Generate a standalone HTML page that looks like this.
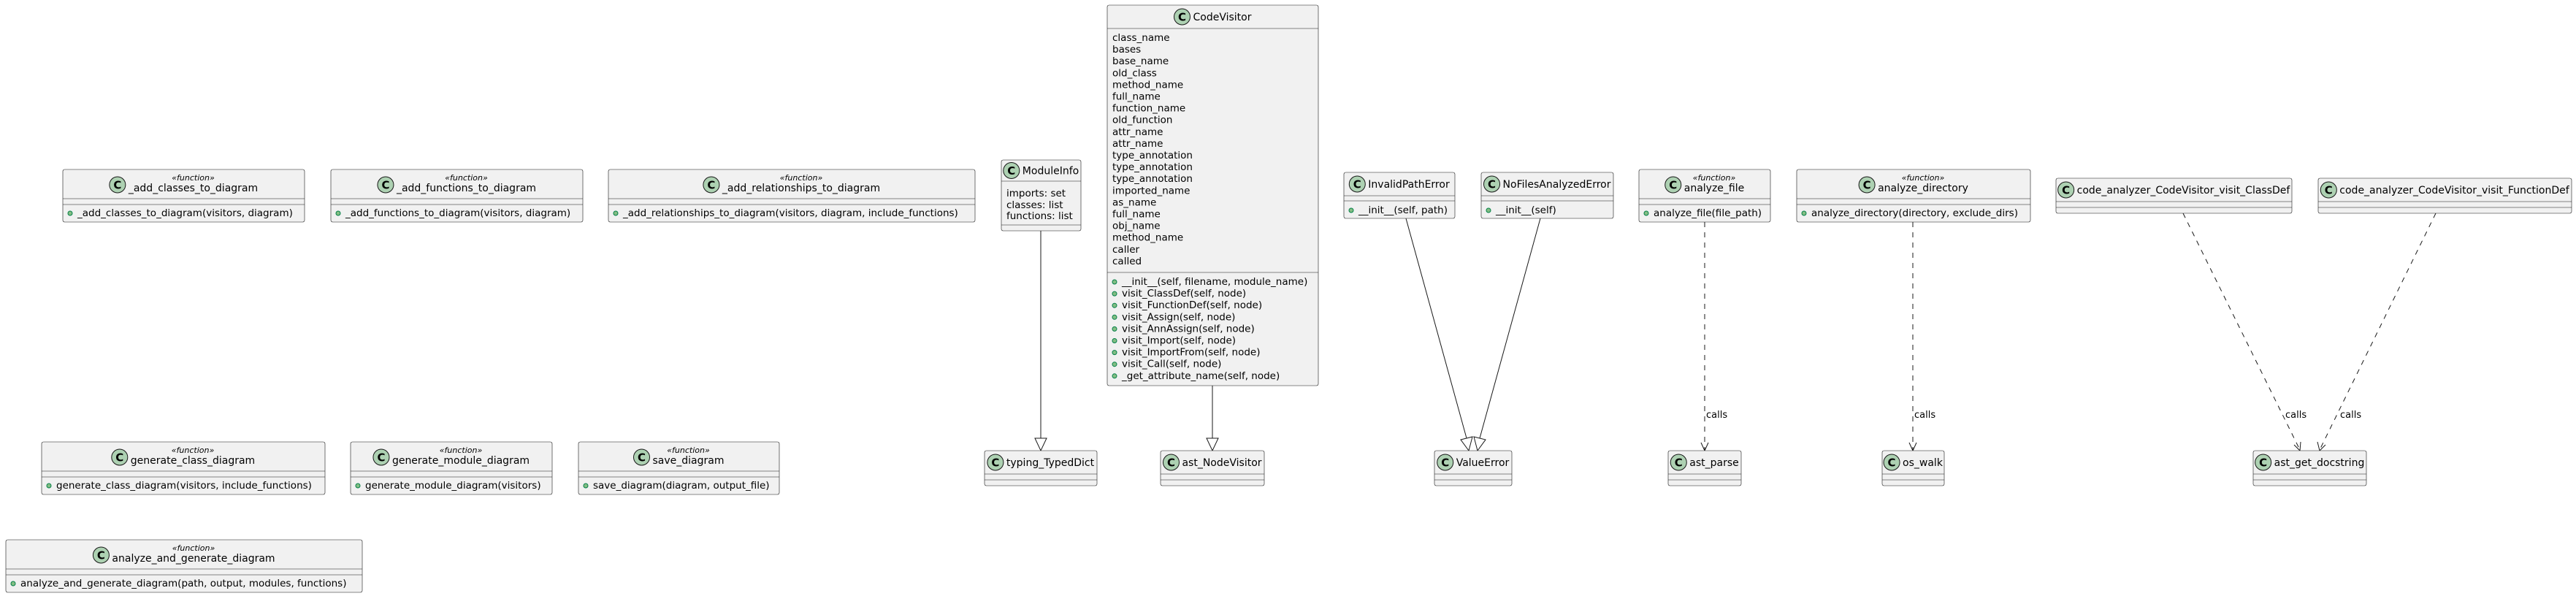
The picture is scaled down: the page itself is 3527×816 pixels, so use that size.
<!DOCTYPE html>
<html><head><meta charset="utf-8">
<style>
html,body{margin:0;padding:0;background:#fff;}
svg{display:block;font-family:"DejaVu Sans","Liberation Sans",sans-serif;}
</style></head>
<body>
<svg id="s" width="3527" height="816" viewBox="0 0 3527 816" xmlns="http://www.w3.org/2000/svg">
<defs>
<marker id="tri" viewBox="0 0 20 20" refX="10" refY="20" markerWidth="20" markerHeight="20" orient="auto-start-reverse" markerUnits="userSpaceOnUse"></marker>
</defs>
<g id="edges" stroke="#181818" fill="none" stroke-width="1">
<line x1="1425" y1="316" x2="1425" y2="600"/>
<polygon points="1417,600 1433,600 1425,617" fill="#fff"/>
<line x1="1660" y1="528" x2="1660" y2="600"/>
<polygon points="1652,600 1668,600 1660,617" fill="#fff"/>
<line x1="1925" y1="299" x2="2008" y2="600"/>
<polygon points="2000,602 2016,598 2011,617" fill="#fff"/>
<line x1="2109" y1="299" x2="2026" y2="600"/>
<polygon points="2018,598 2034,602 2023,617" fill="#fff"/>
<g stroke-dasharray="7,7">
<line x1="2334" y1="304" x2="2334" y2="616"/>
<line x1="2619" y1="304" x2="2619" y2="616"/>
<line x1="2989" y1="292" x2="3149" y2="616"/>
<line x1="3335" y1="292" x2="3176" y2="616"/>
</g>
<polyline points="2329,606 2334,617 2339,606"/>
<polyline points="2614,606 2619,617 2624,606"/>
<polyline points="3141,609 3149,617 3150,605"/>
<polyline points="3173,605 3176,617 3184,609"/>
</g>
<g font-size="13" fill="#000">
<text x="2336" y="572">calls</text>
<text x="2621" y="572">calls</text>
<text x="3129" y="572">calls</text>
<text x="3204" y="572">calls</text>
</g>
<g id="nodes"></g>
</svg>
<script>
const NS="http://www.w3.org/2000/svg";
const g=document.getElementById('nodes');
function el(t,a,p){const e=document.createElementNS(NS,t);for(const k in a)e.setAttribute(k,a[k]);(p||g).appendChild(e);return e;}
function txt(x,y,s,a,p){const e=el('text',Object.assign({x:x,y:y},a||{}),p);e.textContent=s;return e;}
function box(o){
  const {x,y,w,h,name,stereo,hh,divs,fields,methods}=o;
  el('rect',{x:x,y:y,width:w,height:h,fill:'#F1F1F1',stroke:'#181818','stroke-width':0.6,rx:2.5});
  divs.forEach(d=>el('line',{x1:x,x2:x+w,y1:d,y2:d,stroke:'#181818','stroke-width':0.6}));
  const t=txt(0,0,name,{'font-size':14});
  const tw=t.getComputedTextLength();
  const cw=22+4+tw, st=x+(w-cw)/2;
  const cy=stereo? y+hh/2+1 : y+hh/2;
  el('circle',{cx:st+11,cy:cy,r:11,fill:'#ADD1B2',stroke:'#181818','stroke-width':1});
  txt(st+11,cy+5.5,'C',{'font-size':15,'font-weight':'bold','text-anchor':'middle'});
  t.setAttribute('x',st+26);
  if(stereo){
    t.setAttribute('y',y+hh-10);
    txt(st+26+tw/2,y+15,'\u00ABfunction\u00BB',{'font-size':11,'font-style':'italic','text-anchor':'middle'});
  } else t.setAttribute('y',cy+5);
  (fields||[]).forEach(f=>txt(x+7,f[0]+5,f[1],{'font-size':13.5}));
  (methods||[]).forEach(m=>{
    el('circle',{cx:x+10,cy:m[0]+1,r:3,fill:'#84BE84',stroke:'#038048','stroke-width':1});
    txt(x+20,m[0]+5,m[1],{'font-size':13.5});
  });
}
function fbox(x,y,w,name,meth){
  box({x:x,y:y,w:w,h:72,name:name,stereo:true,hh:40,divs:[y+40,y+48],methods:[[y+59,meth]]});
}
fbox(86,232,331,'_add_classes_to_diagram','_add_classes_to_diagram(visitors, diagram)');
fbox(453,232,345,'_add_functions_to_diagram','_add_functions_to_diagram(visitors, diagram)');
fbox(833,232,502,'_add_relationships_to_diagram','_add_relationships_to_diagram(visitors, diagram, include_functions)');
fbox(57,605,388,'generate_class_diagram','generate_class_diagram(visitors, include_functions)');
fbox(480,605,276,'generate_module_diagram','generate_module_diagram(visitors)');
fbox(792,605,275,'save_diagram','save_diagram(diagram, output_file)');
fbox(8,739,488,'analyze_and_generate_diagram','analyze_and_generate_diagram(path, output, modules, functions)');
fbox(2244,232,180,'analyze_file','analyze_file(file_path)');
fbox(2460,232,320,'analyze_directory','analyze_directory(directory, exclude_dirs)');
box({x:1371,y:219,w:109,h:97,name:'ModuleInfo',hh:29,divs:[248,308],fields:[[264,'imports: set'],[280,'classes: list'],[295,'functions: list']]});
const attrs=['class_name','bases','base_name','old_class','method_name','full_name','function_name','old_function','attr_name','attr_name','type_annotation','type_annotation','type_annotation','imported_name','as_name','full_name','obj_name','method_name','caller','called'];
const meths=['__init__(self, filename, module_name)','visit_ClassDef(self, node)','visit_FunctionDef(self, node)','visit_Assign(self, node)','visit_AnnAssign(self, node)','visit_Import(self, node)','visit_ImportFrom(self, node)','visit_Call(self, node)','_get_attribute_name(self, node)'];
box({x:1516,y:7,w:289,h:521,name:'CodeVisitor',hh:32,divs:[39,373],
  fields:attrs.map((a,i)=>[51+i*16.1,a]),methods:meths.map((m,i)=>[385+i*16.1,m])});
box({x:1840,y:236,w:152,h:63,name:'InvalidPathError',hh:32,divs:[268,275],methods:[[287,'__init__(self, path)']]});
box({x:2028,y:236,w:181,h:63,name:'NoFilesAnalyzedError',hh:32,divs:[268,275],methods:[[287,'__init__(self)']]});
function sbox(x,y,w,h,name){box({x:x,y:y,w:w,h:h,name:name,hh:h-16,divs:[y+h-16,y+h-8]});}
sbox(1348,617,154,48,'typing_TypedDict');
sbox(1589,617,142,48,'ast_NodeVisitor');
sbox(1964,617,106,48,'ValueError');
sbox(2284,617,100,48,'ast_parse');
sbox(2577,617,85,48,'os_walk');
sbox(3085,617,155,48,'ast_get_docstring');
sbox(2815,244,323,48,'code_analyzer_CodeVisitor_visit_ClassDef');
sbox(3174,244,347,48,'code_analyzer_CodeVisitor_visit_FunctionDef');
</script>
</body></html>
